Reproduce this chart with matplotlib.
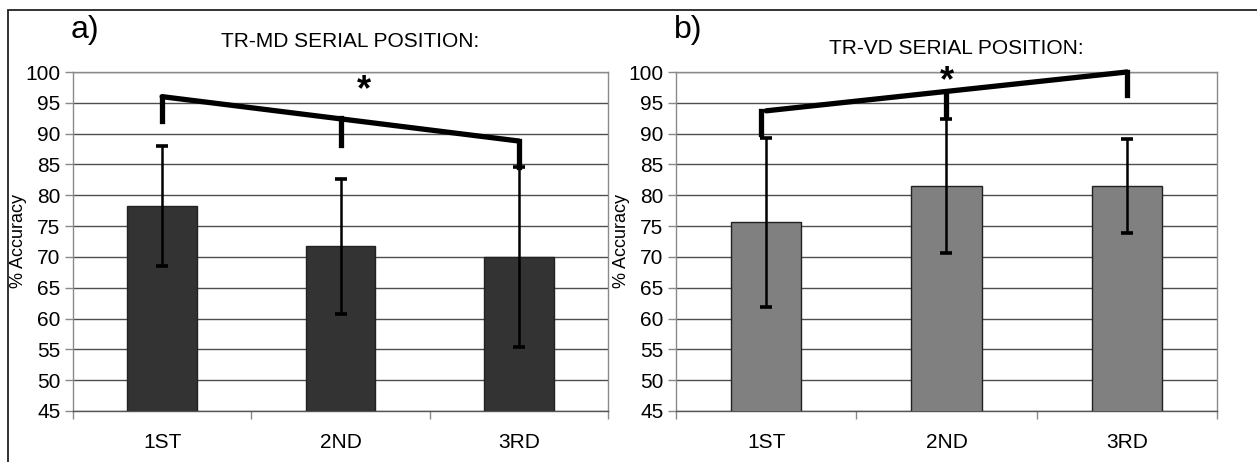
import matplotlib.pyplot as plt
from matplotlib.patches import Rectangle

plt.rcParams["font.family"] = ["Liberation Sans", "DejaVu Sans"]

# ----------------------------------------------------------------
# DATA
# ----------------------------------------------------------------
positions = ["1ST", "2ND", "3RD"]

md_means = [78.3, 71.7, 70.0]
md_errors = [9.7, 11.0, 14.6]

vd_means = [75.6, 81.45, 81.5]
vd_errors = [13.7, 10.85, 7.6]

# significance brackets: (category index, y) for the slanted line, plus the drop ends
md_bracket_line = [(0, 96.0), (2, 88.8)]
md_bracket_drops = [(0, 96.0, 92.0), (1, 92.5, 88.2), (2, 88.8, 84.6)]
md_star = (1.13, 97.0)

vd_bracket_line = [(0, 93.7), (2, 100.0)]
vd_bracket_drops = [(-0.03, 93.7, 90.0), (1, 96.6, 93.0), (2, 100.0, 96.3)]
vd_star = (1.0, 98.4)

Y_TICKS = list(range(45, 101, 5))


def draw_panel(ax, means, errors, color, title, title_y, letter, line, drops, star):
    x = list(range(len(positions)))
    ax.bar(x, means, width=0.39, color=color, edgecolor="#222222", linewidth=1.0,
           zorder=3)
    ax.errorbar(x, means, yerr=errors, fmt="none", ecolor="black", elinewidth=1.8,
                capsize=4.5, capthick=2.6, zorder=4)

    ax.set_ylim(45, 100)
    ax.set_xlim(-0.5, 2.5)
    ax.set_yticks(Y_TICKS)
    ax.set_yticklabels([str(t) for t in Y_TICKS], fontsize=15)
    ax.yaxis.grid(True, color="#4d4d4d", linewidth=1.0, zorder=0)
    ax.set_axisbelow(True)

    # category ticks sit at the section boundaries, labels in the middle
    ax.set_xticks([-0.5, 0.5, 1.5, 2.5])
    ax.set_xticklabels([])
    ax.set_xticks(x, minor=True)
    ax.set_xticklabels(positions, minor=True, fontsize=15)
    ax.tick_params(axis="x", which="minor", length=0, pad=16)
    ax.tick_params(axis="x", which="major", length=6, width=1, color="#888888",
                   direction="out")
    ax.tick_params(axis="y", length=6, width=1, color="#888888", direction="out", pad=3)

    for side in ["left", "right", "top"]:
        ax.spines[side].set_color("#8a8a8a")
        ax.spines[side].set_linewidth(1.0)
    ax.spines["bottom"].set_color("#555555")
    ax.spines["bottom"].set_linewidth(1.0)

    ax.set_ylabel("% Accuracy", fontsize=13, labelpad=-1)
    ax.text(0.518, title_y, title, transform=ax.transAxes, fontsize=15,
            ha="center", va="baseline")
    ax.text(-0.004, 1.08, letter, transform=ax.transAxes, fontsize=23, va="bottom")

    # significance bracket
    lx = [p[0] for p in line]
    ly = [p[1] for p in line]
    ax.plot(lx, ly, color="black", linewidth=3.8, solid_capstyle="round",
            clip_on=False, zorder=6)
    for dx, y0, y1 in drops:
        ax.plot([dx, dx], [y0, y1], color="black", linewidth=3.8, clip_on=False, zorder=6)
    ax.text(star[0], star[1], "*", fontsize=26, fontweight="bold", ha="center",
            va="center", zorder=6)


fig = plt.figure(figsize=(12.57, 4.62), dpi=100)

# thin frame around the figure
fig.patches.append(Rectangle((8 / 1257, -0.05), 1.1, 1.05 - 10 / 462,
                             transform=fig.transFigure, fill=False,
                             edgecolor="#222222", linewidth=1.3))

ax_a = fig.add_axes([73 / 1257, 1 - 411 / 462, 535 / 1257, 339 / 462])
ax_b = fig.add_axes([676 / 1257, 1 - 411 / 462, 541 / 1257, 339 / 462])

draw_panel(ax_a, md_means, md_errors, "#333333", "TR-MD SERIAL POSITION:", 1.074, "a)",
           md_bracket_line, md_bracket_drops, md_star)
draw_panel(ax_b, vd_means, vd_errors, "#808080", "TR-VD SERIAL POSITION:", 1.053, "b)",
           vd_bracket_line, vd_bracket_drops, vd_star)

fig.savefig("out.png", dpi=100)
